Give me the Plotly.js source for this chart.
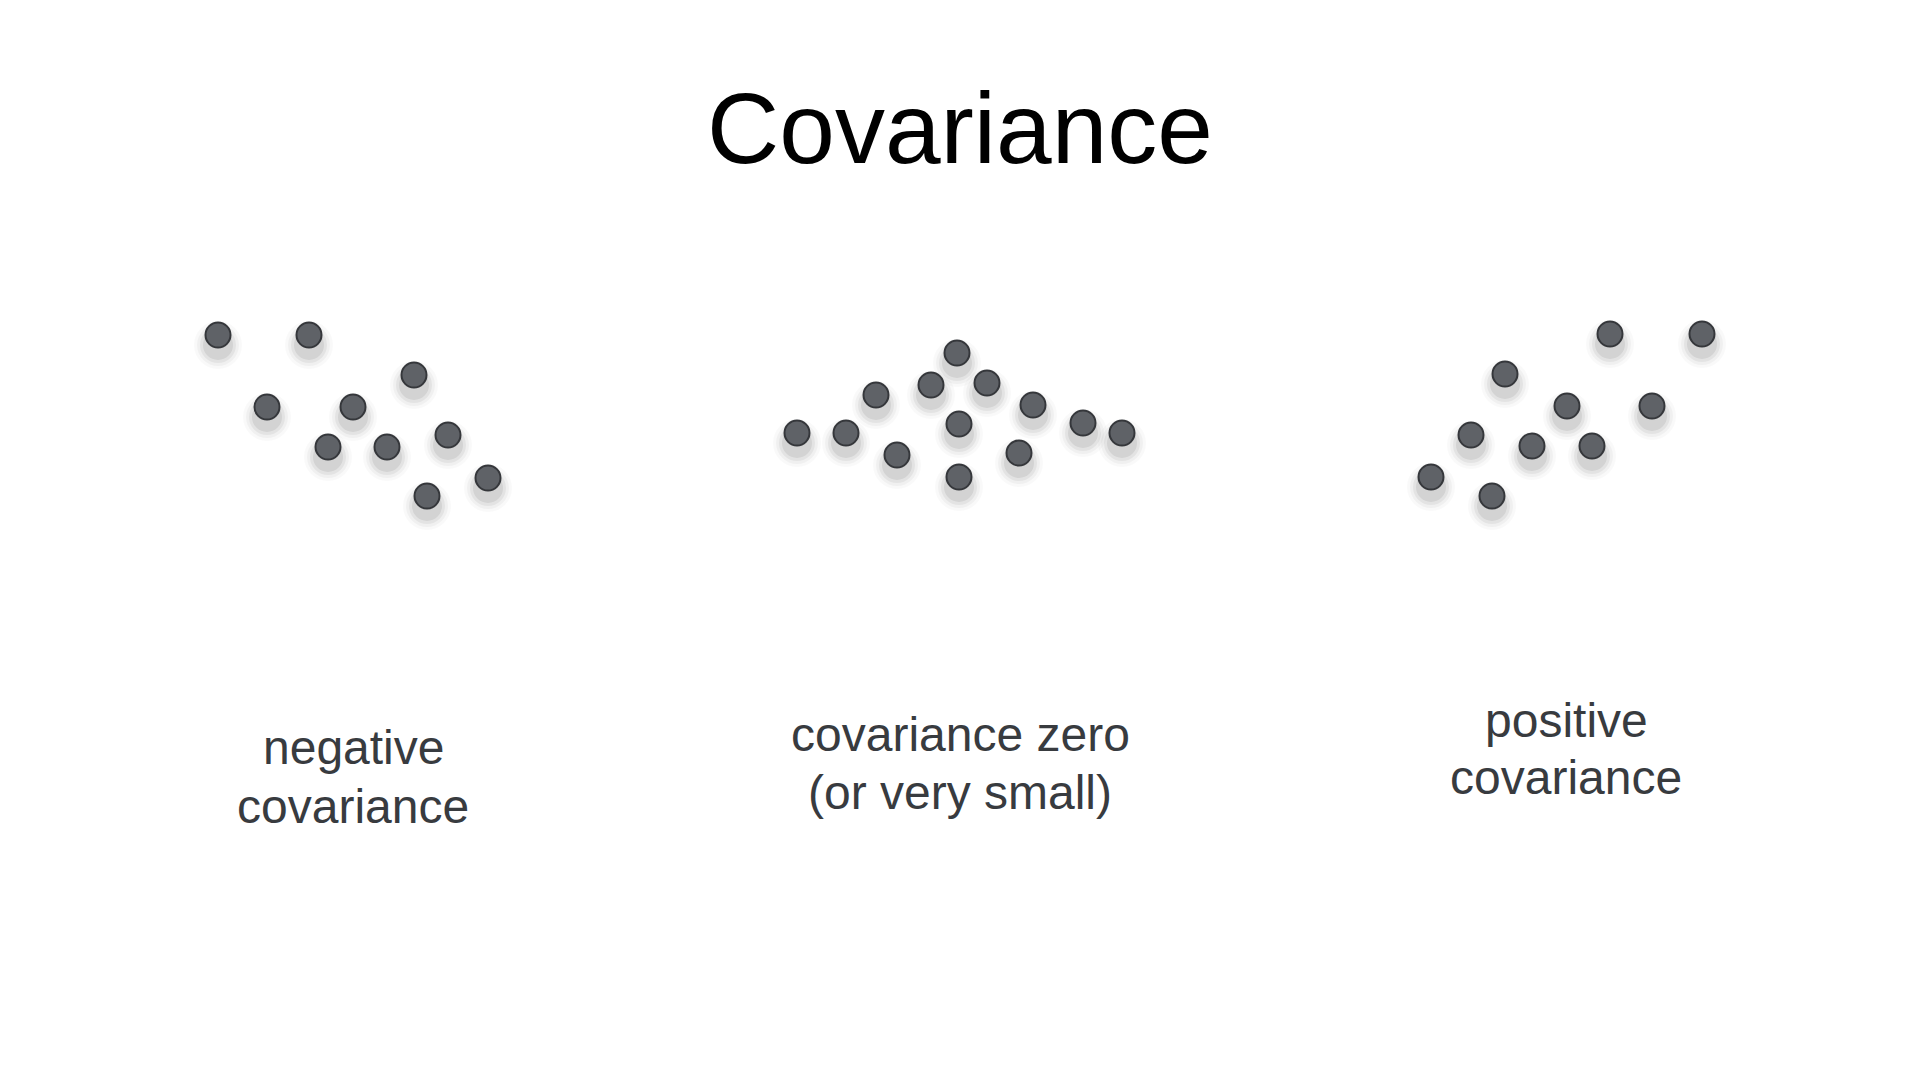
<!DOCTYPE html>
<html>
<head>
<meta charset="utf-8">
<script src="https://cdn.plot.ly/plotly-3.0.1.min.js"></script>
<style>html,body{margin:0;padding:0;background:#fff;}#chart{width:1920px;height:1080px;}</style>
</head>
<body>
<div id="chart"></div>
<script>
// ---- data (arbitrary units: 1 unit ~ 10 px) ----
const titleText = "Covariance";

const negX = [3.8, 12.9, 23.4, 8.7, 17.3, 14.8, 20.7, 26.8, 30.8, 24.7];
const negY = [18.5, 18.5, 14.5, 11.3, 11.3, 7.3, 7.3, 8.5, 4.2, 2.4];

const zeroX = [19.7, 17.1, 22.7, 11.6, 27.3, 3.7, 8.6, 19.9, 32.3, 36.2, 13.7, 25.9, 19.9];
const zeroY = [16.7, 13.5, 13.7, 12.5, 11.5, 8.7, 8.7, 9.6, 9.7, 8.7, 6.5, 6.7, 4.3];

const posX = [21.0, 30.2, 10.5, 16.7, 25.2, 7.1, 13.2, 19.2, 3.1, 9.2];
const posY = [18.6, 18.6, 14.6, 11.4, 11.4, 8.5, 7.4, 7.4, 4.3, 2.4];

const panelLabels = [
  ["negative", "covariance"],
  ["covariance zero", "(or very small)"],
  ["positive", "covariance"]
];

// ---- layout / styling ----
const W = 1920, H = 1080;
const panels = [
  {xs: negX,  ys: negY,  px0: 180,  px1: 520,  xr: [0, 34], labelX: 353, labelY: [748, 806]},
  {xs: zeroX, ys: zeroY, px0: 760,  px1: 1160, xr: [0, 40], labelX: 960, labelY: [734, 792]},
  {xs: posX,  ys: posY,  px0: 1400, px1: 1740, xr: [0, 34], labelX: 1566, labelY: [720, 777]}
];
const pyTop = 300, pyBot = 520, yr = [0, 22];
const shadowDy = 10; // px offset of the soft shadow

const traces = [];
const layout = {
  width: W, height: H,
  margin: {l: 0, r: 0, t: 0, b: 0},
  paper_bgcolor: "#ffffff",
  plot_bgcolor: "rgba(0,0,0,0)",
  showlegend: false,
  hovermode: false,
  title: {
    text: titleText,
    font: {family: "Liberation Sans, Arial, Helvetica, sans-serif", size: 100, color: "#000000"},
    x: 0.5, xanchor: "center", xref: "paper",
    y: 1 - 128 / H, yanchor: "middle", yref: "container"
  },
  annotations: []
};

function axisCfg(domain, range) {
  return {domain: domain, range: range, visible: false, showgrid: false, zeroline: false, fixedrange: true};
}

// shadow subplots first (drawn below), then the dots
panels.forEach((p, i) => {
  const xd = [p.px0 / W, p.px1 / W];
  const yd = [(H - pyBot) / H, (H - pyTop) / H];
  const ydShadow = [(H - pyBot - shadowDy) / H, (H - pyTop - shadowDy) / H];
  const sIdx = i + 1;          // shadow axes 1..3
  const dIdx = i + 4;          // dot axes 4..6
  const sx = sIdx === 1 ? "xaxis" : "xaxis" + sIdx;
  const sy = sIdx === 1 ? "yaxis" : "yaxis" + sIdx;
  layout[sx] = axisCfg(xd, p.xr);
  layout[sy] = axisCfg(ydShadow, yr);
  layout["xaxis" + dIdx] = axisCfg(xd, p.xr);
  layout["yaxis" + dIdx] = axisCfg(yd, yr);
  const sxr = sIdx === 1 ? "x" : "x" + sIdx;
  const syr = sIdx === 1 ? "y" : "y" + sIdx;
  // layered soft shadow
  [[48, 0.025], [42, 0.035], [36, 0.05], [30, 0.07]].forEach(([sz, op]) => {
    traces.push({
      type: "scatter", mode: "markers", x: p.xs, y: p.ys, xaxis: sxr, yaxis: syr,
      marker: {size: sz, color: "rgba(0,0,0," + op + ")", line: {width: 0}},
      hoverinfo: "skip", cliponaxis: false
    });
  });
  traces.push({
    type: "scatter", mode: "markers", x: p.xs, y: p.ys,
    xaxis: "x" + dIdx, yaxis: "y" + dIdx,
    marker: {size: 25, color: "#5f6267", line: {width: 2, color: "#35373b"}},
    hoverinfo: "skip", cliponaxis: false
  });
  panelLabels[i].forEach((line, k) => {
    layout.annotations.push({
      text: line, showarrow: false,
      xref: "paper", yref: "paper",
      x: p.labelX / W, y: 1 - p.labelY[k] / H,
      xanchor: "center", yanchor: "middle",
      font: {family: "Liberation Sans, Arial, Helvetica, sans-serif", size: 48, color: "#383b3f"}
    });
  });
});

Plotly.newPlot("chart", traces, layout, {staticPlot: true, displayModeBar: false});
</script>
</body>
</html>
